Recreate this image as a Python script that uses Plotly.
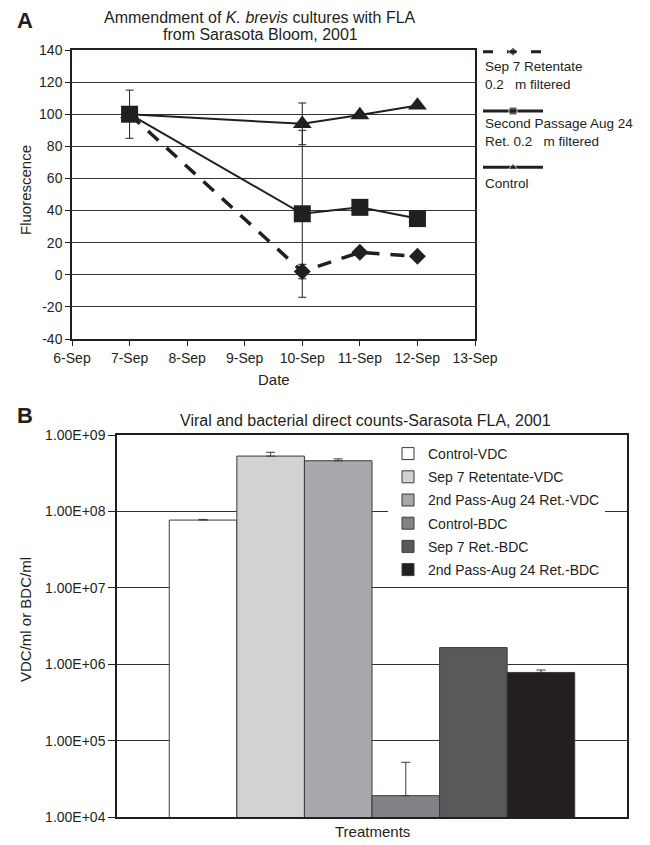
import plotly.graph_objects as go

# ---------------- data: panel A ----------------
dates = ["2001-09-07", "2001-09-10", "2001-09-11", "2001-09-12"]
sep7_retentate = [100, 2, 14, 11.5]
sep7_err = [0, 4.5, 0, 0]
second_passage = [100, 38, 42, 35]
second_err = [15, 52, 0, 0]
control = [100, 94, 99.5, 105.5]
control_err = [0, 13, 0, 0]
a_ticks = ["2001-09-%02d" % d for d in range(6, 14)]
a_yticks = [-40, -20, 0, 20, 40, 60, 80, 100, 120, 140]
a_yticktext = [str(v) for v in a_yticks]

# ---------------- data: panel B ----------------
bar_names = ["Control-VDC", "Sep 7 Retentate-VDC", "2nd Pass-Aug 24 Ret.-VDC",
             "Control-BDC", "Sep 7 Ret.-BDC", "2nd Pass-Aug 24 Ret.-BDC"]
bar_values = [7.7e7, 5.3e8, 4.6e8, 1.9e4, 1.65e6, 7.8e5]
bar_errors = [1.5e6, 6.4e7, 2.7e7, 3.3e4, 0, 6e4]
b_tickvals = [1e4, 1e5, 1e6, 1e7, 1e8, 1e9]
b_ticktext = ["1.00E+04", "1.00E+05", "1.00E+06", "1.00E+07", "1.00E+08", "1.00E+09"]

bar_colors = ["#ffffff", "#d1d2d4", "#a7a9ac", "#808285", "#58595b", "#231f20"]

W, H = 650, 845
FONT = "Liberation Sans, Arial, sans-serif"
INK = "#231f20"


def px(x):
    return x / W


def py(y):
    return 1 - y / H


fig = go.Figure()

# ---- panel A traces ----
fig.add_trace(go.Scatter(
    x=dates, y=sep7_retentate, mode="lines+markers", name="Sep 7 Retentate",
    line=dict(color=INK, width=3.5, dash="14px,11px"),
    marker=dict(symbol="diamond", size=13, color=INK),
    error_y=dict(type="data", array=sep7_err, color=INK, thickness=1, width=4),
    xaxis="x", yaxis="y", showlegend=False))
fig.add_trace(go.Scatter(
    x=dates, y=control, mode="lines+markers", name="Control",
    line=dict(color=INK, width=2),
    marker=dict(symbol="triangle-up", size=16.5, color=INK),
    error_y=dict(type="data", array=control_err, color=INK, thickness=1, width=4),
    xaxis="x", yaxis="y", showlegend=False))
fig.add_trace(go.Scatter(
    x=dates, y=second_passage, mode="lines+markers", name="Second Passage",
    line=dict(color=INK, width=2),
    marker=dict(symbol="square", size=17, color=INK),
    error_y=dict(type="data", array=second_err, color=INK, thickness=1, width=4),
    xaxis="x", yaxis="y", showlegend=False))

# ---- panel A legend samples (aux axis in pixel units) ----
leg_rows = [51.7, 111, 167.3]
leg_specs = [
    dict(dash="10px,14px", width=3, symbol="diamond", size=7),
    dict(dash="solid", width=3, symbol="square", size=8),
    dict(dash="solid", width=3, symbol="triangle-up", size=8),
]
for row, spec in zip(leg_rows, leg_specs):
    fig.add_trace(go.Scatter(
        x=[0, 0.5, 1], y=[row] * 3, mode="lines+markers",
        line=dict(color=INK, width=spec["width"], dash=spec["dash"]),
        marker=dict(symbol=spec["symbol"], size=[0, spec["size"], 0], color=INK),
        xaxis="x3", yaxis="y3", showlegend=False, hoverinfo="skip"))

# ---- panel B traces ----
for name, val, err, col in zip(bar_names, bar_values, bar_errors, bar_colors):
    fig.add_trace(go.Bar(
        x=["Treatments"], y=[val], name=name,
        marker=dict(color=col, line=dict(color="#3a3a3c", width=1)),
        error_y=dict(type="data", symmetric=False, array=[err], arrayminus=[0],
                     color="#3a3a3c", thickness=1, width=4.5, visible=err > 0),
        xaxis="x2", yaxis="y2", legendgroup=name))

axis_common = dict(showline=True, linecolor=INK, linewidth=1.5, mirror=True,
                   ticks="outside", tickcolor=INK, automargin=False,
                   tickfont=dict(family=FONT, size=14, color=INK))

fig.update_layout(
    width=W, height=H, autosize=False,
    margin=dict(l=0, r=0, t=0, b=0, pad=0),
    paper_bgcolor="white", plot_bgcolor="white",
    font=dict(family=FONT, color=INK),
    barmode="group", bargap=0.205, bargroupgap=0,
    xaxis=dict(axis_common, domain=[px(72), px(475)], anchor="y", type="date",
               range=["2001-09-06", "2001-09-13"], tickvals=a_ticks,
               tickformat="%-d-%b", ticklen=5, showgrid=False, zeroline=False),
    yaxis=dict(axis_common, domain=[py(339), py(50)], anchor="x",
               range=[-40, 140], tickvals=a_yticks, ticktext=a_yticktext,
               ticklen=5, showgrid=True, gridcolor="#333333", gridwidth=1,
               zeroline=False),
    xaxis2=dict(axis_common, domain=[px(117), px(627)], anchor="y2",
                showticklabels=False, ticks="", showgrid=False),
    yaxis2=dict(axis_common, domain=[py(817), py(435)], anchor="x2",
                type="log", range=[4, 9], tickvals=b_tickvals, ticktext=b_ticktext,
                ticklen=7, showgrid=True, gridcolor="#333333", gridwidth=1,
                zeroline=False),
    xaxis3=dict(domain=[px(483), px(543)], anchor="y3", range=[0, 1],
                visible=False, fixedrange=True, automargin=False),
    yaxis3=dict(domain=[py(200), py(40)], anchor="x3", range=[200, 40],
                visible=False, fixedrange=True, automargin=False),
    legend=dict(x=px(388), y=py(438), xanchor="left", yanchor="top",
                bgcolor="white", borderwidth=0, tracegroupgap=2,
                font=dict(family=FONT, size=14, color=INK)),
    showlegend=True,
)


def ann(text, x, y, size=14, angle=0, xanchor="center", bold=False):
    fig.add_annotation(
        text=("<b>%s</b>" % text) if bold else text,
        x=px(x), y=py(y), xref="paper", yref="paper",
        xanchor=xanchor, yanchor="middle", showarrow=False, textangle=angle,
        align="left" if xanchor == "left" else "center",
        font=dict(family=FONT, size=size, color=INK))


# panel labels and titles
ann("A", 15, 20, size=22, xanchor="left", bold=True)
ann("B", 15, 415, size=22, xanchor="left", bold=True)
ann("Ammendment of <i>K. brevis</i> cultures with FLA", 260, 17, size=16)
ann("from Sarasota Bloom, 2001", 260, 34, size=16)
ann("Viral and bacterial direct counts-Sarasota FLA, 2001", 366, 420, size=16)
ann("Fluorescence", 25, 190, size=15, angle=-90)
ann("Date", 274, 379, size=15)
ann("VDC/ml or BDC/ml", 25, 620, size=15, angle=-90)
ann("Treatments", 372, 831, size=15)

# panel A legend text
for text, y in [("Sep 7 Retentate<br>0.2   m filtered", 76),
                ("Second Passage Aug 24<br>Ret. 0.2   m filtered", 132.7),
                ("Control", 183.3)]:
    ann(text, 483, y, size=13.5, xanchor="left")

fig.write_html("out.html",
               config={"displayModeBar": False},
               post_script="document.body.style.margin='0px';"
                           "document.body.style.overflow='hidden';")
